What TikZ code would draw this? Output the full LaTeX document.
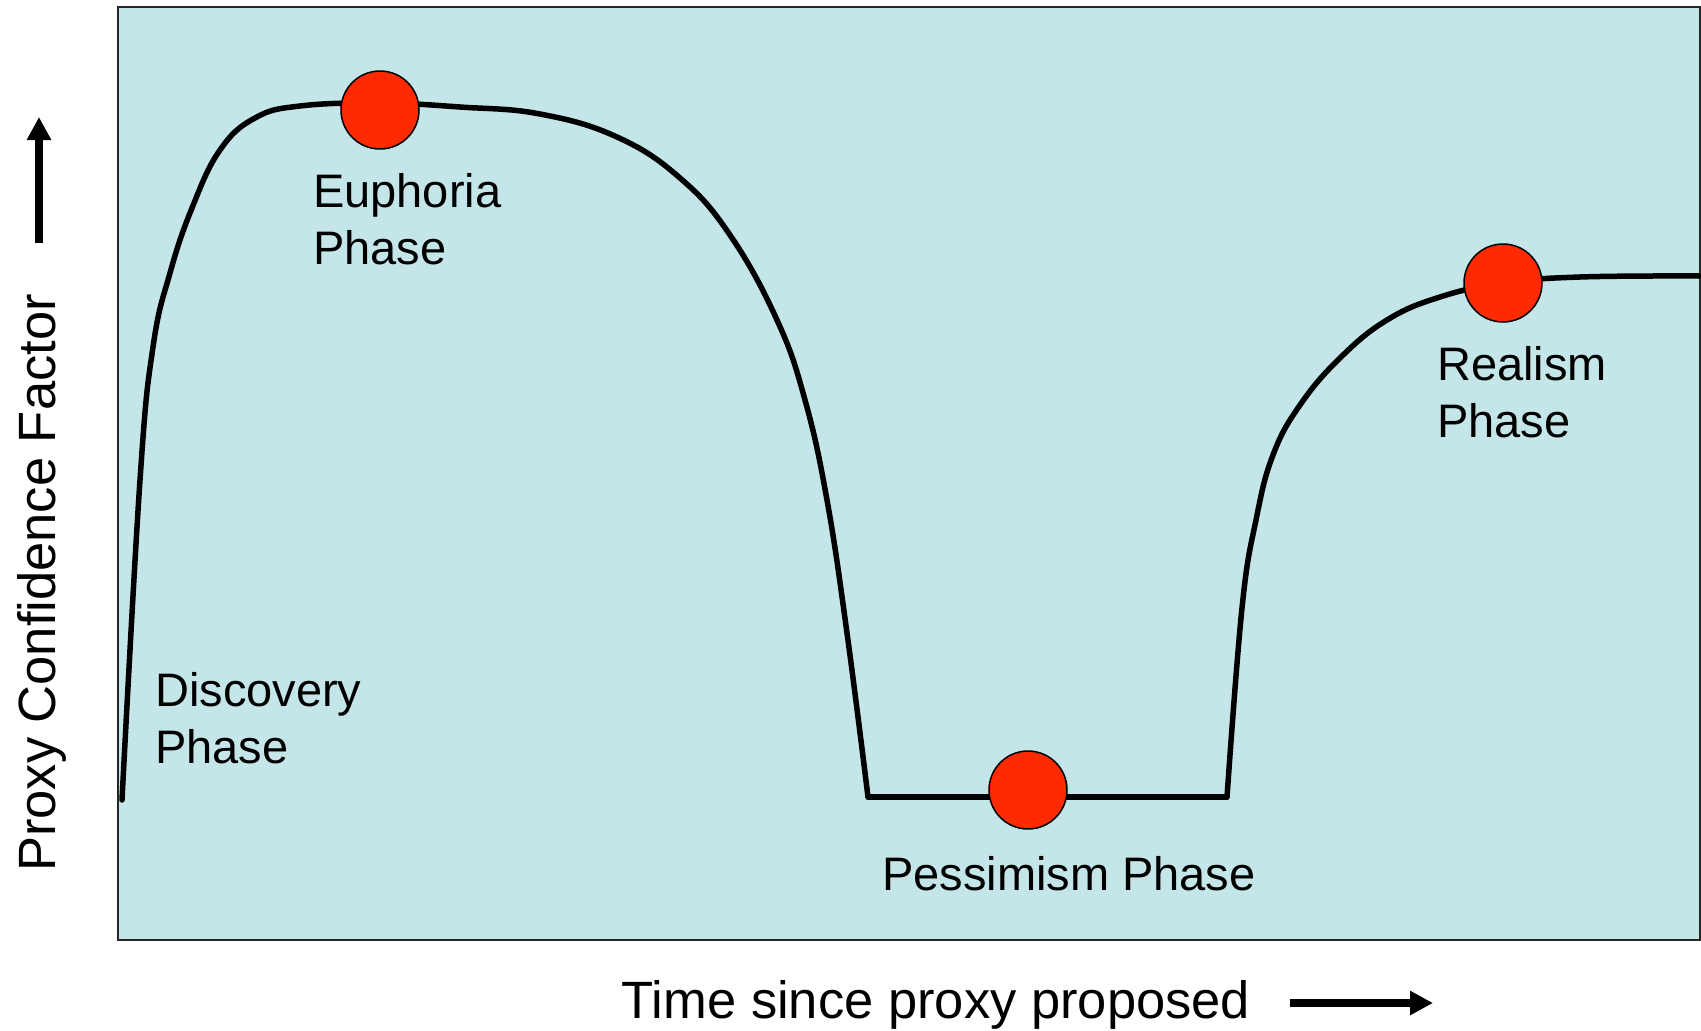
\documentclass[tikz,border=0pt]{standalone}
\usepackage{fontspec}
\setmainfont{Liberation Sans}
\usetikzlibrary{arrows.meta}
\definecolor{bgblue}{HTML}{C4E6E8}
\definecolor{dotred}{HTML}{FF2A00}
\begin{document}
\begin{tikzpicture}[x=1pt,y=-1pt,
  curve/.style={line width=5.5pt, line cap=round, line join=round},
  dot/.style={circle, draw=black, line width=1.5pt, fill=dotred, minimum size=78pt, inner sep=0pt},
  phase/.style={font=\fontsize{47}{57}\selectfont, align=left, anchor=base west, inner sep=0pt},
  axislabel/.style={font=\fontsize{52.5}{60}\selectfont, inner sep=0pt, anchor=base},
  bigarrow/.style={line width=8pt, -{Triangle[width=23pt,length=23pt]}}]
\useasboundingbox (0,0) rectangle (1701,1031);
\draw[fill=bgblue, draw=black!85, line width=1.5pt] (118,7) rectangle (1700,940);

% curve
\draw[curve] plot[smooth, tension=0.7] coordinates {(122,800) (140,480) (153,347) (170,273) (192,208) (220,150) (255,118) (300,106) (380,103) (460,107) (540,114) (617,137) (680,178) (730,235) (777,320) (805,400) (827,500) (847,633) (868,797)};
\draw[curve] (868,797) -- (1227,797);
\draw[curve] plot[smooth, tension=0.7] coordinates {(1227,797) (1242,608) (1256,520) (1273,455) (1300,405) (1340,358) (1387,320) (1440,297) (1503,283) (1580,277) (1700,276)};

% dots
\node[dot] (euph) at (380,110) {};
\node[dot] (pess) at (1028,790) {};
\node[dot] (real) at (1503,283) {};

% labels (anchor at baseline of last line)
\node[phase] (ldisc) at (155,763) {Discovery\\Phase};
\node[phase] (leuph) at (313,264) {Euphoria\\Phase};
\node[phase] (lreal) at (1437,437) {Realism\\Phase};
\node[phase] (lpess) at (882,890) {Pessimism Phase};

% axes
\node[axislabel, rotate=90] (ylab) at (55,583) {Proxy Confidence Factor};
\node[axislabel] (xlab) at (936,1018) {Time since proxy proposed};

\coordinate (ya) at (39,243);
\coordinate (yb) at (39,117);
\coordinate (xa) at (1290,1003);
\coordinate (xb) at (1433,1003);
\draw[bigarrow] (ya) -- (yb);
\draw[bigarrow] (xa) -- (xb);
\end{tikzpicture}
\end{document}
